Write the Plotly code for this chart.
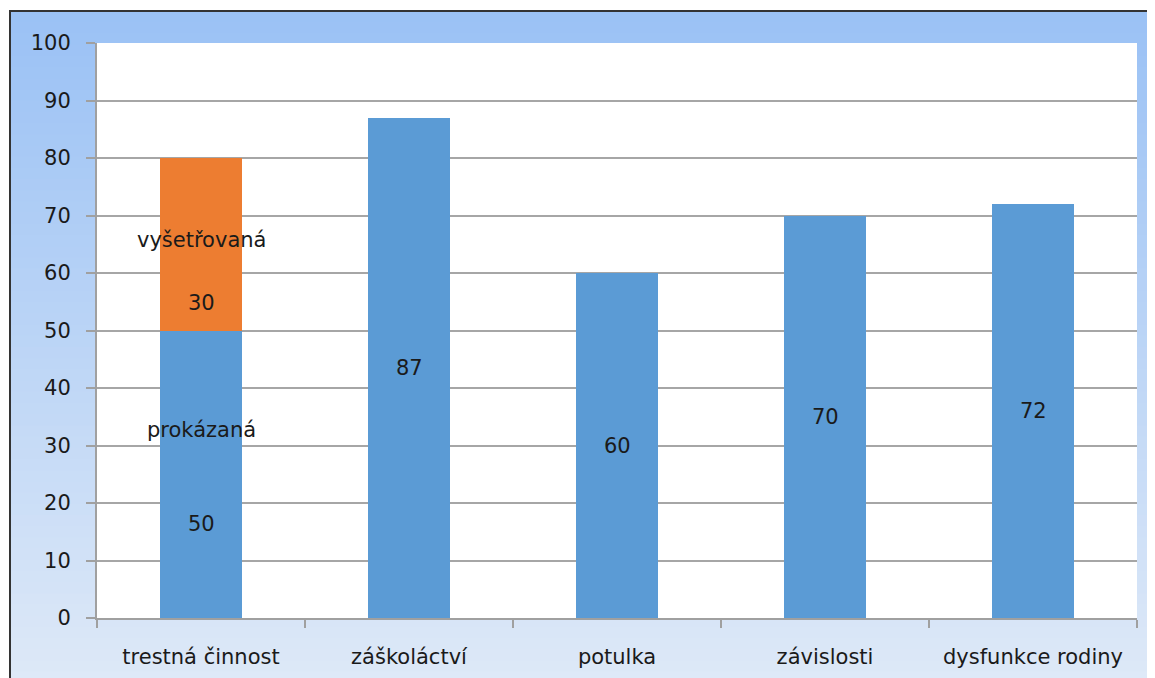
import plotly.graph_objects as go
import numpy as np

categories = ["trestná činnost", "záškoláctví", "potulka", "závislosti", "dysfunkce rodiny"]
series_names = ["prokázaná", "vyšetřovaná"]
proven = [50, 87, 60, 70, 72]
investigated = [30, None, None, None, None]
y_ticks = [0, 10, 20, 30, 40, 50, 60, 70, 80, 90, 100]

W, H = 1155, 678
OFF = 8  # page body offset
PL, PR, PT, PB = 97, 1137, 43, 618  # plot area in screenshot pixels
PW, PH = PR - PL, PB - PT
ML, MT = PL - OFF, PT - OFF
MR = W - ML - PW
MB = H - MT - PH

def px_x(p):
    return (p - PL) / PW

def px_y(p):
    return (PB - p) / PH

FONT = "DejaVu Sans"
TXT = "#1a1a1a"

fig = go.Figure()
fig.add_trace(go.Bar(x=categories, y=proven, name=series_names[0],
                     marker=dict(color="#5B9BD5", line=dict(width=0))))
fig.add_trace(go.Bar(x=categories, y=investigated, name=series_names[1],
                     marker=dict(color="#ED7D31", line=dict(width=0))))

shapes = []
# gradient background of chart frame
top_c = np.array([155, 194, 245])
bot_c = np.array([222, 233, 248])
n = 60
y_top, y_bot = 11, H + 5
for i in range(n):
    t = i / (n - 1)
    c = (top_c * (1 - t) + bot_c * t).astype(int)
    p0 = y_top + (y_bot - y_top) * i / n
    p1 = y_top + (y_bot - y_top) * (i + 1) / n + 1
    shapes.append(dict(type="rect", xref="paper", yref="paper", layer="below",
                       x0=px_x(10), x1=px_x(W + 10), y0=px_y(p1), y1=px_y(p0),
                       fillcolor=f"rgb({c[0]},{c[1]},{c[2]})", line=dict(width=0)))
# white plot area
shapes.append(dict(type="rect", xref="paper", yref="paper", layer="below",
                   x0=0, x1=1, y0=0, y1=1, fillcolor="white", line=dict(width=0)))
# frame border
shapes.append(dict(type="rect", xref="paper", yref="paper", layer="above",
                   x0=px_x(10), x1=px_x(W + 20), y0=px_y(H + 20), y1=px_y(11),
                   fillcolor="rgba(0,0,0,0)", line=dict(color="#333333", width=2)))

annotations = []
# labels of the stacked first bar
first_labels = [
    (series_names[1], 65.7), (str(investigated[0]), 54.8),
    (series_names[0], 32.7), (str(proven[0]), 16.3),
]
for txt, yv in first_labels:
    annotations.append(dict(x=categories[0], y=yv, text=txt, showarrow=False,
                            font=dict(family=FONT, size=21, color=TXT)))
for cat, v in zip(categories[1:], proven[1:]):
    annotations.append(dict(x=cat, y=v / 2, text=str(v), showarrow=False,
                            font=dict(family=FONT, size=21, color=TXT)))

fig.update_layout(
    width=W, height=H,
    margin=dict(l=ML, r=MR, t=MT, b=MB),
    barmode="stack", bargap=0.61,
    showlegend=False,
    paper_bgcolor="white", plot_bgcolor="rgba(0,0,0,0)",
    font=dict(family=FONT, size=21, color=TXT),
    shapes=shapes, annotations=annotations,
    xaxis=dict(showgrid=False, showline=True, linecolor="#A0A0A0", linewidth=2,
               ticks="outside", tickson="boundaries", ticklen=8, tickcolor="#A0A0A0",
               tickwidth=2, ticklabelstandoff=19, tickfont=dict(size=21)),
    yaxis=dict(range=[0, 100], tickvals=y_ticks, showgrid=True, gridcolor="#A6A6A6",
               gridwidth=2, zeroline=False, showline=True, linecolor="#A0A0A0",
               linewidth=2, ticks="outside", ticklen=9, tickcolor="#A0A0A0", tickwidth=2,
               ticklabelstandoff=11, tickfont=dict(size=21)),
)

fig.write_html("out.html")
